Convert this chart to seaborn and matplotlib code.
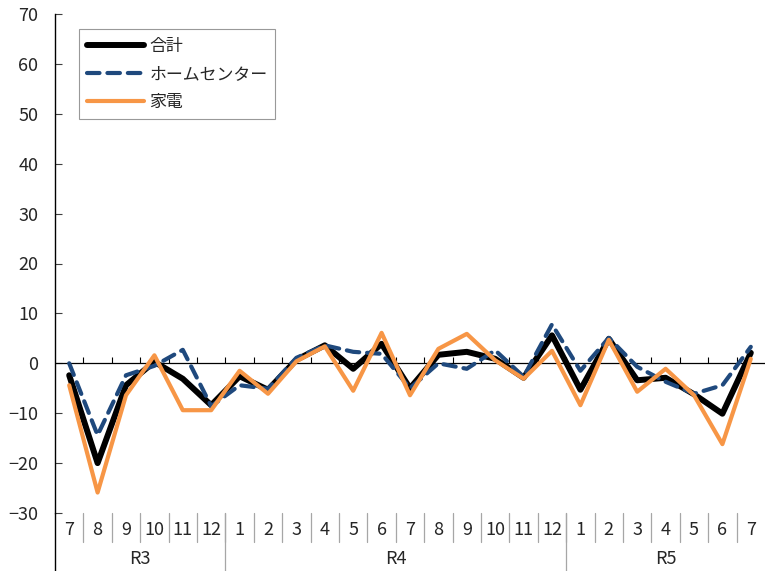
import numpy as np
import pandas as pd
import matplotlib
matplotlib.use("Agg")
import matplotlib.pyplot as plt
import seaborn as sns

# Categories: year (Reiwa) and month
years = ["R3"] * 6 + ["R4"] * 12 + ["R5"] * 7
months = ["7", "8", "9", "10", "11", "12",
          "1", "2", "3", "4", "5", "6", "7", "8", "9", "10", "11", "12",
          "1", "2", "3", "4", "5", "6", "7"]

# Series values
total = [-2.4, -20.0, -4.4, 0.3, -3.1, -8.4,
         -2.6, -5.3, 0.7, 3.6, -1.1, 3.9, -5.0, 1.7, 2.3, 0.9, -2.9, 5.6,
         -5.3, 4.9, -3.4, -2.9, -6.2, -10.1, 2.1]
home_center = [0.0, -14.4, -2.4, -0.5, 2.7, -8.6,
               -4.4, -5.1, 1.1, 3.6, 2.3, 1.9, -5.0, 0.0, -1.1, 2.6, -2.7, 7.8,
               -1.5, 5.1, -0.7, -3.7, -6.1, -4.4, 3.3]
appliances = [-4.4, -25.9, -6.4, 1.6, -9.4, -9.4,
              -1.5, -6.1, 0.4, 3.4, -5.5, 6.1, -6.4, 2.9, 5.9, 0.6, -3.1, 2.5,
              -8.4, 4.7, -5.7, -1.1, -6.4, -16.2, 0.9]

df = pd.DataFrame({"x": np.arange(len(months)),
                   "合計": total, "ホームセンター": home_center, "家電": appliances})

sns.set_theme(style="white")
plt.rcParams["font.family"] = ["Noto Sans CJK JP", "DejaVu Sans"]

fig = plt.figure(figsize=(7.65, 5.71), dpi=100)
W, H = 765, 571
ax = fig.add_axes([55 / W, (H - 513) / H, (765 - 55) / W, (513 - 14) / H])

sns.lineplot(data=df, x="x", y="合計", ax=ax, color="black", lw=4.3,
             label="合計", solid_capstyle="round")
sns.lineplot(data=df, x="x", y="ホームセンター", ax=ax, color="#1F497D", lw=3,
             label="ホームセンター")
ax.lines[-1].set_dashes((3, 1.9))
ax.lines[-1].set_dash_capstyle("round")
sns.lineplot(data=df, x="x", y="家電", ax=ax, color="#F79646", lw=3, label="家電")

n = len(months)
ax.set_xlim(-0.5, n - 0.5)
ax.set_ylim(-30, 70)
ax.set_yticks(np.arange(-30, 71, 10))
ax.tick_params(axis="y", direction="in", length=5, width=0.8, color="#404040",
               labelsize=13, pad=12, left=True)
ax.set_xticks(np.arange(n))
ax.set_xticklabels(months)
ax.tick_params(axis="x", length=0, labelsize=13, pad=6, bottom=False)
ax.set_xlabel(None)
ax.set_ylabel(None)

for s in ["top", "right", "bottom"]:
    ax.spines[s].set_visible(False)
ax.spines["left"].set_color("black")
ax.spines["left"].set_linewidth(1)

# zero axis line with small tick marks at category boundaries
ax.axhline(0, color="black", lw=0.9, zorder=1)
bounds = np.arange(n + 1) - 0.5
ax.vlines(bounds[1:-1], 0, 1.2, color="black", lw=0.8, zorder=1)

# separators in the category area below the plot
trans = ax.get_xaxis_transform()
for b in bounds[1:-1]:
    ax.plot([b, b], [0, -0.058], transform=trans, color="#A6A6A6", lw=0.9, clip_on=False)
year_bounds = [i - 0.5 for i in range(1, n) if years[i] != years[i - 1]]
for b in year_bounds:
    ax.plot([b, b], [0, -0.12], transform=trans, color="#A6A6A6", lw=0.9, clip_on=False)
ax.plot([-0.5, -0.5], [0, -0.12], transform=trans, color="black", lw=1, clip_on=False)

# year labels centred under their months
for y in dict.fromkeys(years):
    idx = [i for i, v in enumerate(years) if v == y]
    ax.text((idx[0] + idx[-1]) / 2, -0.092, y, transform=trans, ha="center", va="center",
            fontsize=13)

leg = ax.legend(loc="upper left", bbox_to_anchor=(24 / 710, 1 - 15 / 499), fontsize=12.2,
                frameon=True, fancybox=False, edgecolor="#808080", handlelength=3.4,
                handletextpad=0.3, borderpad=0.45, labelspacing=0.6, borderaxespad=0)
leg.get_frame().set_linewidth(0.8)

fig.savefig("out.png", dpi=100)
